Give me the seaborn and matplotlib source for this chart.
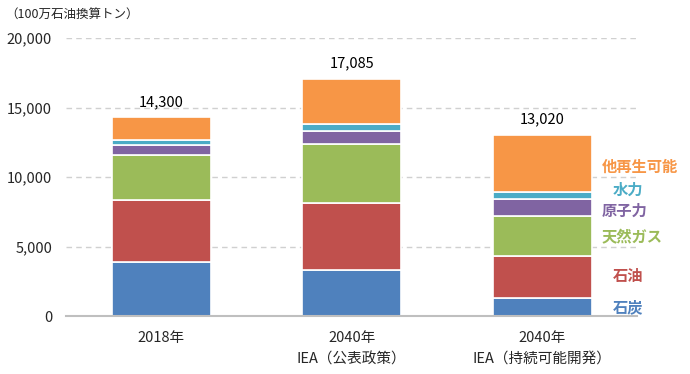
import matplotlib
matplotlib.use("Agg")
import matplotlib.pyplot as plt
import seaborn as sns
import pandas as pd

# Categories (x axis) and stacked series, in Mtoe
scenarios = ["2018年", "2040年\nIEA（公表政策）", "2040年\nIEA（持続可能開発）"]
sources = ["石炭", "石油", "天然ガス", "原子力", "水力", "他再生可能"]
coal = [3870, 3320, 1290]
oil = [4470, 4830, 3030]
gas = [3220, 4250, 2900]
nuclear = [720, 930, 1170]
hydro = [390, 510, 550]
renewables = [1630, 3245, 4080]
totals = [14300, 17085, 13020]

colors = ["#4F81BD", "#C0504D", "#9BBB59", "#8064A2", "#4BACC6", "#F79646"]

sns.set_style("white")
plt.rcParams["font.family"] = ["Noto Sans CJK JP", "DejaVu Sans"]

df = pd.DataFrame(
    {"Scenario": scenarios, "石炭": coal, "石油": oil, "天然ガス": gas,
     "原子力": nuclear, "水力": hydro, "他再生可能": renewables}
)

fig = plt.figure(figsize=(6.9, 3.74), dpi=100)
ax = fig.add_axes([0.0957, 0.155, 0.828, 0.743])

bottom = [0] * len(scenarios)
for src, col in zip(sources, colors):
    sns.barplot(data=df, x="Scenario", y=src, color=col, bottom=bottom,
                width=0.52, edgecolor="white", linewidth=1.2, ax=ax,
                saturation=1)
    bottom = [b + v for b, v in zip(bottom, df[src])]

# total labels above bars
for i, t in enumerate(totals):
    ax.annotate(f"{t:,}", (i, t), xytext=(0, 6), textcoords="offset points",
                ha="center", va="bottom", fontsize=10.5, color="#000000")

# series labels on the right
label_y = [650, 2870, 5660, 7600, 9100, 10750]
label_x = [0.957, 0.957, 0.937, 0.937, 0.957, 0.937]
for name, col, yy, xx in zip(sources, colors, label_y, label_x):
    ax.text(xx, yy, name, transform=ax.get_yaxis_transform(), color=col,
            fontsize=11, fontweight="bold", ha="left", va="center",
            clip_on=False)

ax.set_xlim(-0.5, 2.5)
ax.set_ylim(0, 20000)
ax.set_yticks([0, 5000, 10000, 15000, 20000])
ax.yaxis.set_major_formatter(matplotlib.ticker.FuncFormatter(lambda v, p: f"{int(v):,}"))
ax.grid(axis="y", color="#d0d0d0", linestyle=(0, (4, 3)), linewidth=1)
ax.set_axisbelow(True)
ax.tick_params(axis="y", length=0, pad=10, labelsize=10.5)
ax.tick_params(axis="x", length=0, pad=11, labelsize=10.5)
for lbl in ax.get_xticklabels():
    lbl.set_linespacing(1.6)
ax.set_xlabel("")
ax.set_ylabel("")
for s in ["top", "right", "left"]:
    ax.spines[s].set_visible(False)
ax.spines["bottom"].set_color("#bfbfbf")
ax.spines["bottom"].set_linewidth(1.5)

fig.text(0.008, 0.96, "（100万石油換算トン）", fontsize=9, ha="left", va="center")

fig.savefig("out.png", dpi=100)
